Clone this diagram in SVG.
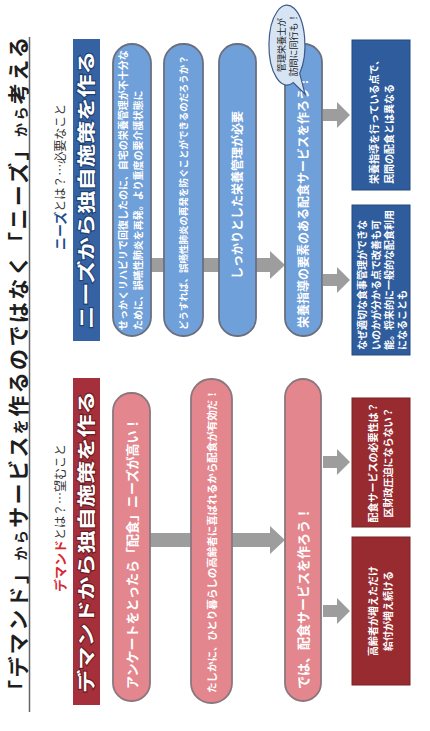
<svg xmlns="http://www.w3.org/2000/svg" width="430" height="731" viewBox="0 0 430 731">
<style>
text{font-family:'Noto Sans CJK JP','Noto Sans CJK SC',sans-serif}
.title{fill:#1e1e1e;font-weight:bold}
.sub{font-size:12px;fill:#333}
.hdr{font-size:18px;font-weight:bold;fill:#fff;stroke:#3a1015;stroke-width:2px;paint-order:stroke;stroke-opacity:.55}
.hdrB{font-size:18px;font-weight:bold;fill:#fff;stroke:#10244a;stroke-width:2px;paint-order:stroke;stroke-opacity:.55}
.pr{fill:#e4868d;stroke:#8a777d;stroke-width:1.8}
.pb{fill:#70a0d9;stroke:#6a6f7e;stroke-width:1.8}
.pt{fill:#fff;font-weight:bold}
.br{fill:#982b30;stroke:#7a2227;stroke-width:1}
.bb{fill:#2e5c9c;stroke:#234a80;stroke-width:1}
.bt{fill:#fff;font-size:10px;font-weight:bold}
.gr{fill:#9d9d9d}
</style>
<rect width="430" height="731" fill="#fff"/>
<g transform="translate(0,731) rotate(-90)">
  <g id="title">
    <text class="title" x="30" y="26" textLength="664" lengthAdjust="spacing"><tspan font-size="21">「デマンド」</tspan><tspan font-size="14">から</tspan><tspan font-size="21">サービス</tspan><tspan font-size="15">を</tspan><tspan font-size="21">作るのではなく「ニーズ」</tspan><tspan font-size="14">から</tspan><tspan font-size="21">考える</tspan></text>
    <line x1="19" y1="29.5" x2="694" y2="29.5" stroke="#666" stroke-width="1.5"/>
  </g>
  <g id="sub-demand"><text class="sub" x="139" y="65"><tspan fill="#d9262f" font-weight="bold" font-size="13">デマンド</tspan>とは？…望むこと</text></g>
  <g id="sub-needs"><text class="sub" x="481" y="65"><tspan fill="#1f4e8c" font-weight="bold" font-size="13">ニーズ</tspan>とは？…必要なこと</text></g>

  <g id="connectors">
    <rect class="gr" x="184" y="149" width="14" height="43"/>
    <rect class="gr" x="184" y="231" width="14" height="40"/>
    <polygon class="gr" points="177,270 205,270 191,285"/>
    <rect class="gr" x="459" y="150" width="14" height="121"/>
    <polygon class="gr" points="452,270 480,270 466,285"/>
    <rect class="gr" x="114" y="323" width="12" height="15"/>
    <polygon class="gr" points="107,337 133,337 120,350"/>
    <rect class="gr" x="263" y="323" width="12" height="15"/>
    <polygon class="gr" points="256,337 282,337 269,350"/>
    <rect class="gr" x="445" y="323" width="12" height="15"/>
    <polygon class="gr" points="438,337 464,337 451,350"/>
    <rect class="gr" x="610" y="323" width="12" height="15"/>
    <polygon class="gr" points="603,337 629,337 616,350"/>
  </g>

  <g id="hdr-demand">
    <rect x="26" y="73" width="327" height="27" fill="#a52f3a"/>
    <text class="hdr" x="38" y="93" textLength="302" lengthAdjust="spacingAndGlyphs">デマンドから独自施策を作る</text>
  </g>
  <g id="hdr-needs">
    <rect x="390" y="73" width="302" height="27" fill="#3562a3"/>
    <text class="hdrB" x="402" y="93" textLength="278" lengthAdjust="spacingAndGlyphs">ニーズから独自施策を作る</text>
  </g>

  <g id="d1"><rect class="pr" x="30" y="113" width="308" height="37" rx="18"/>
    <text class="pt" x="42" y="136.5" font-size="13">アンケートをとったら「配食」ニーズが高い！</text></g>
  <g id="d2"><rect class="pr" x="28" y="191" width="324" height="41" rx="20"/>
    <text class="pt" x="38" y="215.5" font-size="10.5">たしかに、ひとり暮らしの高齢者に喜ばれるから配食が有効だ！</text></g>
  <g id="d3"><rect class="pr" x="30" y="285" width="322" height="36" rx="18"/>
    <text class="pt" x="42" y="308" font-size="13">では、配食サービスを作ろう！</text></g>
  <g id="d4"><rect class="br" x="46" y="352" width="148" height="58"/>
    <text class="bt" x="120" y="377" text-anchor="middle" font-size="10.5">高齢者が増えただけ</text>
    <text class="bt" x="120" y="392" text-anchor="middle" font-size="10.5">給付が増え続ける</text></g>
  <g id="d5"><rect class="br" x="204" y="352" width="129" height="58"/>
    <text class="bt" x="268.5" y="377" text-anchor="middle">配食サービスの必要性は？</text>
    <text class="bt" x="268.5" y="392" text-anchor="middle">区財政圧迫にならない？</text></g>

  <g id="n1"><rect class="pb" x="395" y="113" width="292" height="38" rx="19"/>
    <text class="pt" x="401" y="127" font-size="10">せっかくリハビリで回復したのに、自宅の栄養管理が不十分な</text>
    <text class="pt" x="401" y="142" font-size="10">ために、誤嚥性肺炎を再発。より重度の要介護状態に</text></g>
  <g id="n2"><rect class="pb" x="395" y="164" width="292" height="39" rx="19"/>
    <text class="pt" x="401" y="187" font-size="9.5">どうすれば、誤嚥性肺炎の再発を防ぐことができるのだろうか？</text></g>
  <g id="n3"><rect class="pb" x="395" y="219" width="292" height="37" rx="18"/>
    <text class="pt" x="536" y="241.5" font-size="12" text-anchor="middle">しっかりとした栄養管理が必要</text></g>
  <g id="n4"><rect class="pb" x="395" y="285" width="292" height="37" rx="18"/>
    <text class="pt" x="403" y="308" font-size="12">栄養指導の要素のある配食サービスを作ろう！</text></g>
  <g id="n5"><rect class="bb" x="376" y="352" width="150" height="58"/>
    <text class="bt" x="381" y="366">なぜ適切な食事管理ができな</text>
    <text class="bt" x="381" y="380">いのかが分かる点で改善も可</text>
    <text class="bt" x="381" y="393">能。将来的に一般的な配食利用</text>
    <text class="bt" x="381" y="406">になることも</text></g>
  <g id="n6"><rect class="bb" x="541" y="352" width="150" height="58"/>
    <text class="bt" x="547" y="378" font-size="10.5">栄養指導を行っている点で、</text>
    <text class="bt" x="547" y="393" font-size="10.5">民間の配食とは異なる</text></g>

  <g id="bubble">
    <path d="M657.7 299.7 A40 18 0 1 0 648.4 293.2 L637 305 Z" fill="#d6e4f4" stroke="#3d5a8a" stroke-width="1.2"/>
    <text x="686" y="284.5" font-size="9" fill="#222" text-anchor="middle">管理栄養士が</text>
    <text x="686" y="297" font-size="9" fill="#222" text-anchor="middle">訪問に同行も！</text>
  </g>
</g>
</svg>
